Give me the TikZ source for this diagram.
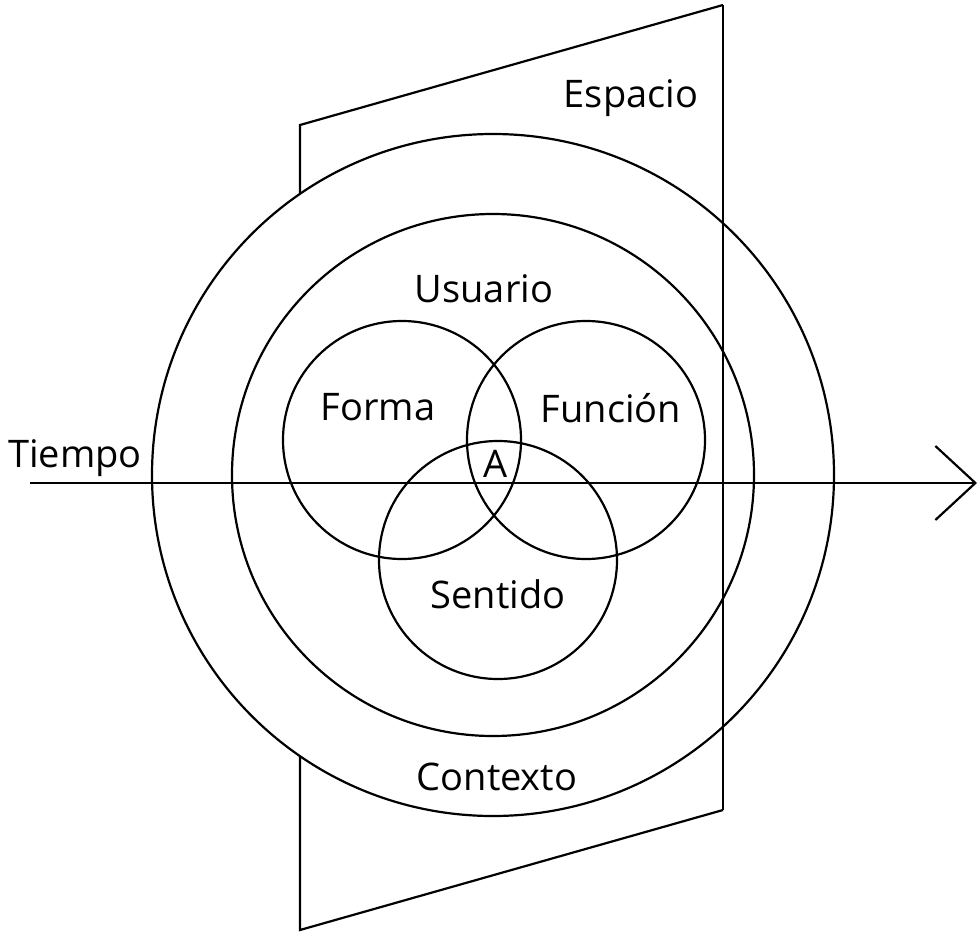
\documentclass[tikz,border=0pt]{standalone}
\usepackage{fontspec}
\setmainfont{Open Sans}
\usetikzlibrary{arrows.meta}

\begin{document}
\begin{tikzpicture}[x=1pt, y=-1pt, line width=2.2pt,
    word/.style={font=\fontsize{38}{44}\selectfont, inner sep=0pt, anchor=base}]
    \useasboundingbox (0,0) rectangle (980,934);

    % Corners of the plane (space)
    \coordinate (p1) at (300,125);
    \coordinate (p2) at (723,5);
    \coordinate (p3) at (723,810);
    \coordinate (p4) at (300,930);

    % Plane, the part behind the circles
    \draw[line join=miter] (p3) -- (p4) -- (p1) -- (p2);

    % Context and user circles
    \coordinate (c) at (493,475);
    \draw[fill=white] (c) circle (341);
    \draw (c) circle (261);

    % Forma, Funcion, Sentido
    \foreach \pos in {(402,440), (586,440), (498,560)}
        \draw \pos circle (119);

    % Plane, right edge in front
    \draw[line join=miter] (p2) -- (p3);

    % Time axis
    \coordinate (t0) at (30,483);
    \coordinate (t1) at (977,483);
    \draw[-{Straight Barb[length=40pt,width=74pt]}] (t0) -- (t1);

    % Labels
    \node[word] (espacio) at (631,107) {Espacio};
    \node[word] (usuario) at (484,302) {Usuario};
    \node[word] (forma) at (378,420) {Forma};
    \node[word] (funcion) at (611,422) {Función};
    \node[word] (a) at (496,477) {A};
    \node[word] (sentido) at (498,608) {Sentido};
    \node[word] (contexto) at (497,790) {Contexto};
    \node[word, anchor=base west] (tiempo) at (7,467) {Tiempo};
\end{tikzpicture}
\end{document}
